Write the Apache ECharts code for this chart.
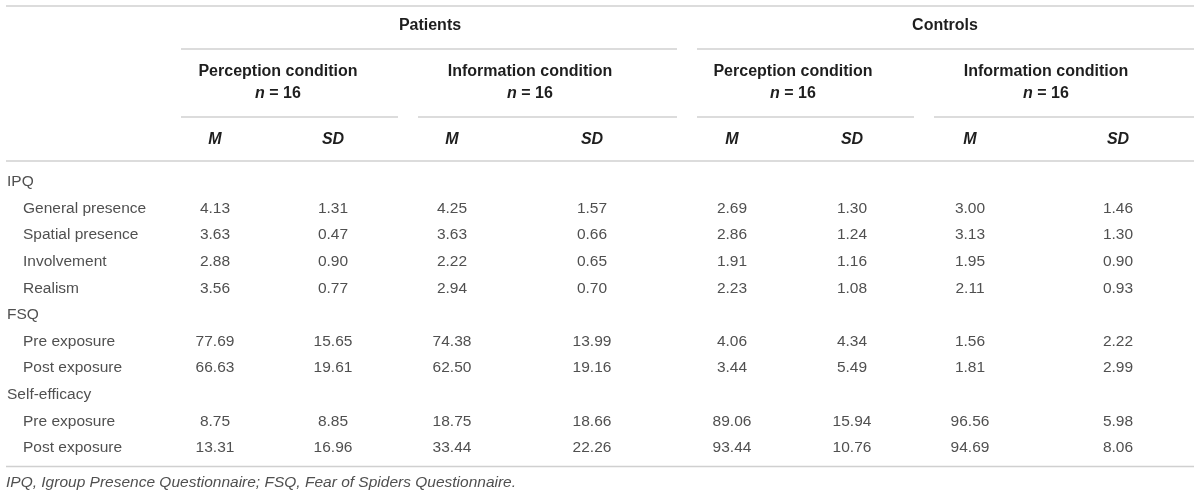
<!DOCTYPE html>
<html lang="en">
<head>
    <meta charset="UTF-8">
    <title>Presence and fear ratings</title>
    <script src="https://cdn.jsdelivr.net/npm/echarts@6/dist/echarts.min.js"></script>
    <style>
        html, body { margin:0; padding:0; background:#fff; }
        #table { width:1200px; height:498px; }
    </style>
</head>
<body>
<div id="table"></div>
<script>
    // table content
    var groups = ['Patients', 'Controls'];
    var conditions = ['Perception condition', 'Information condition', 'Perception condition', 'Information condition'];
    var groupN = [16, 16, 16, 16];
    var stats = ['M', 'SD'];
    var rowLabels = ['IPQ', 'General presence', 'Spatial presence', 'Involvement', 'Realism',
        'FSQ', 'Pre exposure', 'Post exposure', 'Self-efficacy', 'Pre exposure', 'Post exposure'];
    var sectionRows = [0, 5, 8];   // rows that are only a heading

    var patPercM  = [4.13, 3.63, 2.88, 3.56, 77.69, 66.63, 8.75, 13.31];
    var patPercSD = [1.31, 0.47, 0.90, 0.77, 15.65, 19.61, 8.85, 16.96];
    var patInfoM  = [4.25, 3.63, 2.22, 2.94, 74.38, 62.50, 18.75, 33.44];
    var patInfoSD = [1.57, 0.66, 0.65, 0.70, 13.99, 19.16, 18.66, 22.26];
    var conPercM  = [2.69, 2.86, 1.91, 2.23, 4.06, 3.44, 89.06, 93.44];
    var conPercSD = [1.30, 1.24, 1.16, 1.08, 4.34, 5.49, 15.94, 10.76];
    var conInfoM  = [3.00, 3.13, 1.95, 2.11, 1.56, 1.81, 96.56, 94.69];
    var conInfoSD = [1.46, 1.30, 0.90, 0.93, 2.22, 2.99, 5.98, 8.06];
    var footnote = 'IPQ, Igroup Presence Questionnaire; FSQ, Fear of Spiders Questionnaire.';

    // layout (in the 1200 x 498 axis space)
    var columns = [patPercM, patPercSD, patInfoM, patInfoSD, conPercM, conPercSD, conInfoM, conInfoSD];
    var colX = [215, 333, 452, 592, 732, 852, 970, 1118];
    var groupSpan = [[181, 677], [697, 1194]];
    var groupTextX = [430, 945];
    var condSpan = [[181, 398], [418, 677], [697, 914], [934, 1194]];
    var condTextX = [278, 530, 793, 1046];
    var rowY0 = 182, rowStep = 26.6;
    var tableLeft = 6, tableRight = 1194;

    var FONT = '"Liberation Sans", Arial, Helvetica, sans-serif';
    var BODY = '#505050', HEAD = '#1e1e1e', RULE = '#d0d0d0';

    var texts = [];   // {x, y, text, align, weight, style, size, color, rich}
    var rules = [];   // [x1, y, x2]

    groups.forEach(function (g, i) {
        texts.push({x: groupTextX[i], y: 26, text: g, align: 'center', weight: 'bold', size: 16, color: HEAD});
        rules.push([groupSpan[i][0], 49, groupSpan[i][1]]);
    });
    conditions.forEach(function (c, i) {
        texts.push({x: condTextX[i], y: 72, text: c, align: 'center', weight: 'bold', size: 16, color: HEAD});
        texts.push({x: condTextX[i], y: 94, text: '{i|n}{r| = ' + groupN[i] + '}', align: 'center',
            weight: 'bold', size: 16, color: HEAD, rich: true});
        rules.push([condSpan[i][0], 117, condSpan[i][1]]);
    });
    colX.forEach(function (x, c) {
        texts.push({x: x, y: 140, text: stats[c % 2], align: 'center', weight: 'bold', style: 'italic', size: 16, color: HEAD});
    });
    rules.push([tableLeft, 6, tableRight]);
    rules.push([tableLeft, 161, tableRight]);

    var k = 0;
    rowLabels.forEach(function (lab, r) {
        var y = rowY0 + r * rowStep;
        var isSection = sectionRows.indexOf(r) >= 0;
        texts.push({x: isSection ? 7 : 23, y: y, text: lab, align: 'left', size: 15.5, color: BODY});
        if (!isSection) {
            columns.forEach(function (col, c) {
                texts.push({x: colX[c], y: y, text: col[k].toFixed(2), align: 'center', size: 15.5, color: BODY});
            });
            k++;
        }
    });
    rules.push([tableLeft, 466.5, tableRight]);
    texts.push({x: 6, y: 483, text: footnote, align: 'left', style: 'italic', size: 15.5, color: BODY});

    var chart = echarts.init(document.getElementById('table'));
    chart.setOption({
        animation: false,
        grid: {left: 0, right: 0, top: 0, bottom: 0},
        xAxis: {type: 'value', min: 0, max: 1200, show: false},
        yAxis: {type: 'value', min: 0, max: 498, inverse: true, show: false},
        series: [{
            type: 'custom',
            silent: true,
            data: rules,
            renderItem: function (params, api) {
                var a = api.coord([api.value(0), api.value(1)]);
                var b = api.coord([api.value(2), api.value(1)]);
                return {
                    type: 'line',
                    shape: {x1: a[0], y1: a[1], x2: b[0], y2: b[1]},
                    style: {stroke: RULE, lineWidth: 1.5}
                };
            }
        }, {
            type: 'custom',
            silent: true,
            data: texts.map(function (t) { return [t.x, t.y]; }),
            renderItem: function (params, api) {
                var t = texts[params.dataIndex];
                var p = api.coord([api.value(0), api.value(1)]);
                var st = {
                    text: t.text,
                    align: t.align,
                    verticalAlign: 'middle',
                    fontFamily: FONT,
                    fontSize: t.size,
                    fontWeight: t.weight || 'normal',
                    fontStyle: t.style || 'normal',
                    fill: t.color
                };
                if (t.rich) {
                    st.rich = {
                        i: {fontFamily: FONT, fontSize: t.size, fontWeight: 'bold', fontStyle: 'italic', fill: t.color},
                        r: {fontFamily: FONT, fontSize: t.size, fontWeight: 'bold', fill: t.color}
                    };
                }
                return {type: 'text', x: p[0], y: p[1], style: st};
            }
        }]
    });
</script>
</body>
</html>
